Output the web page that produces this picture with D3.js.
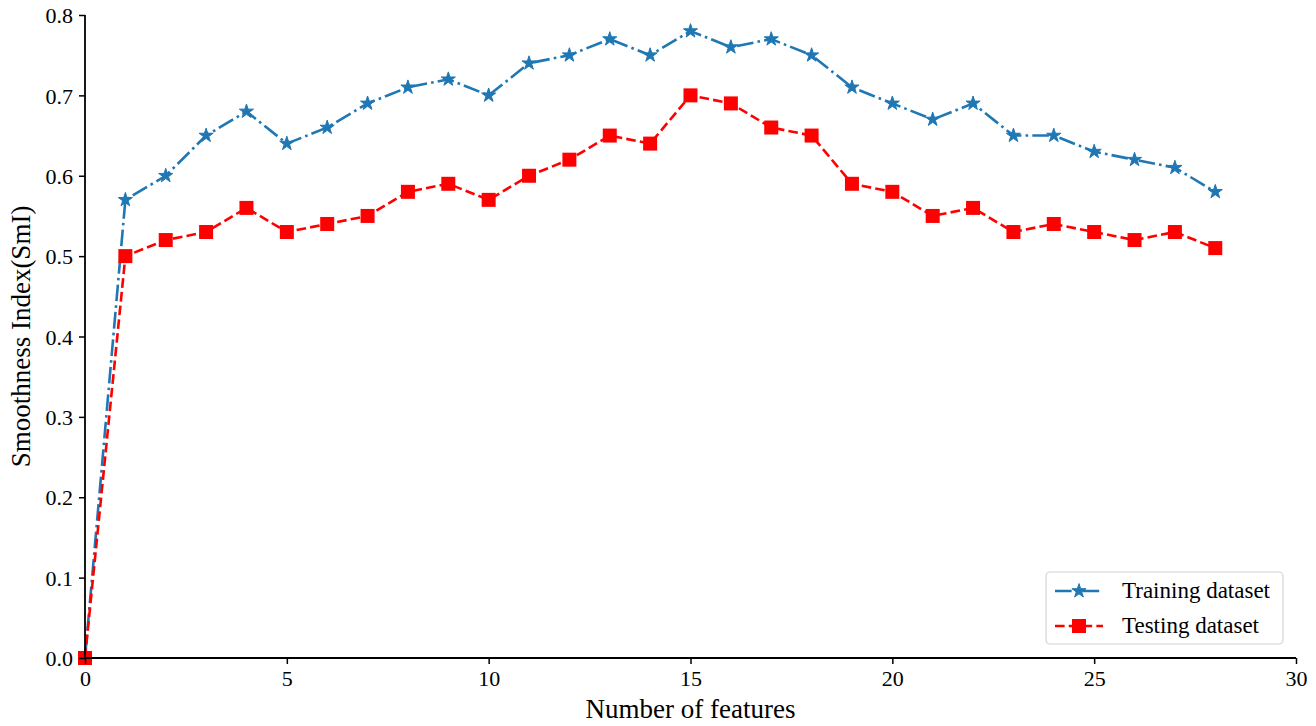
<!DOCTYPE html>
<html>
<head>
<meta charset="utf-8">
<script src="https://cdn.jsdelivr.net/npm/d3@7"></script>
<style>
  html, body { margin: 0; padding: 0; background: #fff; }
  svg { display: block; font-family: "Liberation Serif", "Times New Roman", serif; }
</style>
</head>
<body>
<svg id="chart" width="1316" height="726"></svg>
<script>
// Number of features on the x axis
const features = [0,1,2,3,4,5,6,7,8,9,10,11,12,13,14,15,16,17,18,19,20,21,22,23,24,25,26,27,28];
// Smoothness index per feature count
const training = [0,0.57,0.60,0.65,0.68,0.64,0.66,0.69,0.71,0.72,0.70,0.74,0.75,0.77,0.75,0.78,0.76,0.77,0.75,0.71,0.69,0.67,0.69,0.65,0.65,0.63,0.62,0.61,0.58];
const testing  = [0,0.50,0.52,0.53,0.56,0.53,0.54,0.55,0.58,0.59,0.57,0.60,0.62,0.65,0.64,0.70,0.69,0.66,0.65,0.59,0.58,0.55,0.56,0.53,0.54,0.53,0.52,0.53,0.51];
const xTicks = [0,5,10,15,20,25,30];
const yTicks = [0,0.1,0.2,0.3,0.4,0.5,0.6,0.7,0.8];
const seriesNames = ["Training dataset", "Testing dataset"];

const svg = d3.select("#chart");
const x = d3.scaleLinear().domain([0, 30]).range([85, 1296]);
const y = d3.scaleLinear().domain([0, 0.8]).range([658, 15]);

const blue = "#1f77b4", red = "#ff0000";
const lw = 2.6;
const dashDot = `${6.4*lw},${1.6*lw},${1*lw},${1.6*lw}`;
const dashed = `${3.7*lw},${1.6*lw}`;

// series lines
const line = d3.line().x((d, i) => x(features[i])).y(d => y(d));
const g = svg.append("g");

g.append("path").datum(training)
  .attr("d", line).attr("fill", "none")
  .attr("stroke", blue).attr("stroke-width", lw)
  .attr("stroke-dasharray", dashDot);

g.append("path").datum(testing)
  .attr("d", line).attr("fill", "none")
  .attr("stroke", red).attr("stroke-width", lw)
  .attr("stroke-dasharray", dashed);

const star = d3.symbol().type(d3.symbolStar).size(62);
g.selectAll(".star").data(training).join("path")
  .attr("class", "star")
  .attr("d", star)
  .attr("transform", (d, i) => `translate(${x(features[i])},${y(d)})`)
  .attr("fill", blue).attr("stroke", blue).attr("stroke-width", 1);

const sq = 14;
g.selectAll(".sq").data(testing).join("rect")
  .attr("class", "sq")
  .attr("x", (d, i) => x(features[i]) - sq / 2)
  .attr("y", d => y(d) - sq / 2)
  .attr("width", sq).attr("height", sq)
  .attr("fill", red);

// axes
const xAxis = d3.axisBottom(x).tickValues(xTicks).tickFormat(d3.format("d")).tickSize(6).tickPadding(6);
const yAxis = d3.axisLeft(y).tickValues(yTicks).tickFormat(d3.format(".1f")).tickSize(6).tickPadding(6);

const gx = svg.append("g").attr("transform", `translate(0,${y(0)})`).call(xAxis);
const gy = svg.append("g").attr("transform", `translate(${x(0)},0)`).call(yAxis);
[gx, gy].forEach(a => {
  a.select(".domain").attr("stroke", "#000").attr("stroke-width", 1.8);
  a.selectAll(".tick line").attr("stroke", "#000").attr("stroke-width", 1.5);
  a.selectAll(".tick text").attr("fill", "#000")
    .style("font-family", '"Liberation Serif", serif').style("font-size", "22px");
});
gx.select(".domain").attr("d", `M${x(0)},0H${x(30)}`);
gy.select(".domain").attr("d", `M0,${y(0)}V${y(0.8)}`);
gy.selectAll(".tick text").attr("dy", "0.35em");

// axis titles
svg.append("text")
  .attr("x", (x(0) + x(30)) / 2).attr("y", 718)
  .attr("text-anchor", "middle")
  .style("font-size", "27px").text("Number of features");

svg.append("text")
  .attr("transform", `translate(30,${(y(0) + y(0.8)) / 2}) rotate(-90)`)
  .attr("text-anchor", "middle")
  .style("font-size", "27px").text("Smoothness Index(SmI)");

// legend
const lg = svg.append("g").attr("transform", "translate(1046,572)");
lg.append("rect").attr("width", 237).attr("height", 72).attr("rx", 4)
  .attr("fill", "#fff").attr("stroke", "#d4d4d4").attr("stroke-width", 1.2);

const items = [
  {name: seriesNames[0], color: blue, dash: dashDot, marker: "star"},
  {name: seriesNames[1], color: red, dash: dashed, marker: "square"}
];
items.forEach((it, i) => {
  const cy = 19 + i * 35;
  lg.append("line").attr("x1", 9).attr("x2", 57).attr("y1", cy).attr("y2", cy)
    .attr("stroke", it.color).attr("stroke-width", lw).attr("stroke-dasharray", it.dash);
  if (it.marker === "star") {
    lg.append("path").attr("d", star).attr("transform", `translate(33,${cy})`)
      .attr("fill", it.color).attr("stroke", it.color).attr("stroke-width", 1);
  } else {
    lg.append("rect").attr("x", 33 - sq / 2).attr("y", cy - sq / 2)
      .attr("width", sq).attr("height", sq).attr("fill", it.color);
  }
  lg.append("text").attr("x", 76).attr("y", cy + 7)
    .style("font-size", "23px").attr("fill", "#000").text(it.name);
});
</script>
</body>
</html>
